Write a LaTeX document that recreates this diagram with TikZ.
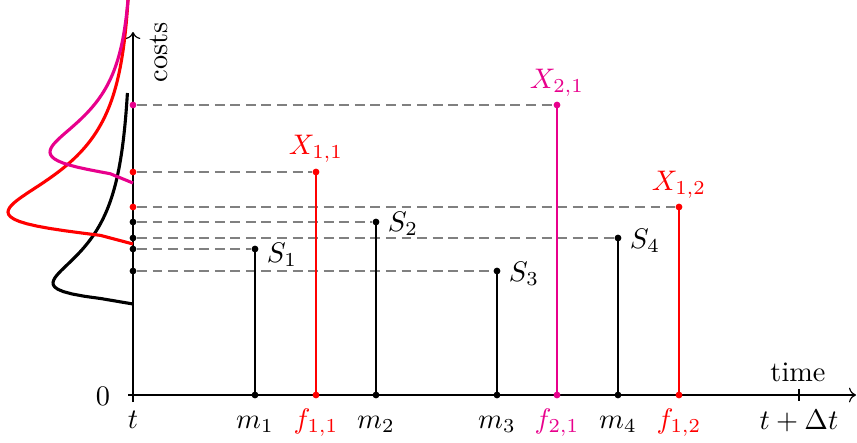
\documentclass[tikz,border=0pt]{standalone}
\usetikzlibrary{arrows.meta}
\definecolor{mag}{RGB}{232,0,140}
\begin{document}
\begin{tikzpicture}[x=0.3534pt,y=-0.3534pt,
  declare function={lnd(\v,\s)=ln(\v)-\s; lnr(\v,\s)=exp(-(lnd(\v,\s)*lnd(\v,\s)-\s*\s)/(2*\s))/\v;},
  dot/.style={circle,fill,inner sep=0pt,minimum size=2.4pt},
  stem/.style={line width=0.7pt},
  guide/.style={gray,dash pattern=on 3.5pt off 2pt,line width=0.4pt},
  dens/.style={line width=1.1pt,line join=round},
  axis/.style={line width=0.4pt}]
\useasboundingbox (0,0) rectangle (857,443);
\clip (0,0) rectangle (857,443);

% axes
\coordinate (xs) at (128,395);
\coordinate (xe) at (856,395);
\coordinate (ys) at (133,402);
\coordinate (ye) at (133,32);
\coordinate (tk1) at (799,389);
\coordinate (tk2) at (799,401);
\draw[axis,->] (xs) -- (xe);
\draw[axis,->] (ys) -- (ye);
\draw[axis] (tk1) -- (tk2);

% dots on the y axis
\node[dot] (y1) at (133,249) {};
\node[dot] (y2) at (133,222) {};
\node[dot] (y3) at (133,271) {};
\node[dot] (y4) at (133,238) {};
\node[dot,red] (y5) at (133,172) {};
\node[dot,red] (y6) at (133,207) {};
\node[dot,mag] (y7) at (133,105) {};

% tops of the stems
\node[dot] (s1) at (255,249) {};
\node[dot] (s2) at (376,222) {};
\node[dot] (s3) at (497,271) {};
\node[dot] (s4) at (618,238) {};
\node[dot,red] (x11) at (316,172) {};
\node[dot,red] (x12) at (679,207) {};
\node[dot,mag] (x21) at (557,105) {};

% feet of the stems
\node[dot] (m1) at (255,395) {};
\node[dot] (m2) at (376,395) {};
\node[dot] (m3) at (497,395) {};
\node[dot] (m4) at (618,395) {};
\node[dot,red] (f11) at (316,395) {};
\node[dot,red] (f12) at (679,395) {};
\node[dot,mag] (f21) at (557,395) {};

% guides
\draw[guide] (y1) -- (s1);
\draw[guide] (y2) -- (s2);
\draw[guide] (y3) -- (s3);
\draw[guide] (y4) -- (s4);
\draw[guide] (y5) -- (x11);
\draw[guide] (y6) -- (x12);
\draw[guide] (y7) -- (x21);

% stems
\draw[stem] (m1.center) -- (s1.center);
\draw[stem] (m2.center) -- (s2.center);
\draw[stem] (m3.center) -- (s3.center);
\draw[stem] (m4.center) -- (s4.center);
\draw[stem,red] (f11.center) -- (x11.center);
\draw[stem,red] (f12.center) -- (x12.center);
\draw[stem,mag] (f21.center) -- (x21.center);

% densities (log-normal shapes, drawn sideways)
\coordinate (b0) at (133,304);
\coordinate (r0) at (133,244);
\coordinate (p0) at (133,183);
\draw[dens] (b0) -- plot[domain=5.4:211,samples=90] ({133-80*lnr(\x/21,1)},{304-\x});
\draw[dens,red] (r0) -- plot[domain=8.6:262,samples=110] ({133-125*lnr(\x/32,0.64)},{244-\x});
\draw[dens,mag] (p0) -- plot[domain=9.3:200,samples=90] ({133-83*lnr(\x/31,0.5625)},{183-\x});

% labels
\node (zero) at (103,396) {$0$};
\node[anchor=base] (lt) at (133,428) {$t$};
\node[anchor=base] (lm1) at (255,428) {$m_1$};
\node[anchor=base] (lm2) at (376,428) {$m_2$};
\node[anchor=base] (lm3) at (497,428) {$m_3$};
\node[anchor=base] (lm4) at (618,428) {$m_4$};
\node[anchor=base,red] (lf11) at (316,428) {$f_{1,1}$};
\node[anchor=base,red] (lf12) at (679,428) {$f_{1,2}$};
\node[anchor=base,mag] (lf21) at (557,428) {$f_{2,1}$};
\node[anchor=base] (ltd) at (799,429) {$t+\Delta t$};
\node[anchor=base] (ltime) at (798,381) {time};
\node[anchor=base,rotate=90] (lcost) at (167,52) {costs};
\node[anchor=west] (ls1) at (257,255) {$S_1$};
\node[anchor=west] (ls2) at (378,224) {$S_2$};
\node[anchor=west] (ls3) at (499,274) {$S_3$};
\node[anchor=west] (ls4) at (620,241) {$S_4$};
\node[anchor=base,red] (lx11) at (316,154) {$X_{1,1}$};
\node[anchor=base,red] (lx12) at (679,190) {$X_{1,2}$};
\node[anchor=base,mag] (lx21) at (557,88) {$X_{2,1}$};
\end{tikzpicture}
\end{document}
